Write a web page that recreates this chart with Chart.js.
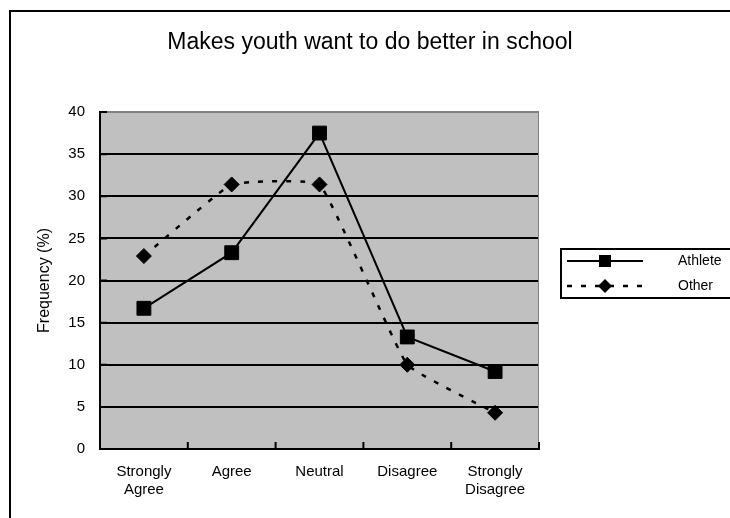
<!DOCTYPE html>
<html>
<head>
<meta charset="utf-8">
<script src="https://cdn.jsdelivr.net/npm/chart.js@4/dist/chart.umd.min.js"></script>
<style>
  html, body { margin: 0; padding: 0; background: #fff; }
  canvas { display: block; }
</style>
</head>
<body>
<canvas id="c" width="730" height="518"></canvas>
<script>
// Survey responses: share of each group giving each answer (%)
const chartTitle = 'Makes youth want to do better in school';
const categories = [['Strongly', 'Agree'], 'Agree', 'Neutral', 'Disagree', ['Strongly', 'Disagree']];
const athlete = [16.7, 23.3, 37.5, 13.3, 9.2];
const other = [22.9, 31.4, 31.4, 10.0, 4.3];
const seriesNames = ['Athlete', 'Other'];
const yMin = 0, yMax = 40, yStep = 5;
const yTitle = 'Frequency (%)';

const FONT = '"Liberation Sans", Arial, Helvetica, sans-serif';
const OTHER_DASH = [5, 9];

// Outer frame, title, grey plot background
const framePlugin = {
  id: 'frame',
  beforeDraw(chart) {
    const { ctx, chartArea: a, width, height } = chart;
    ctx.save();
    ctx.fillStyle = '#ffffff';
    ctx.fillRect(0, 0, width, height);
    ctx.fillStyle = '#c0c0c0';
    ctx.fillRect(a.left, a.top, a.right - a.left, a.bottom - a.top);
    ctx.strokeStyle = '#000';
    ctx.lineWidth = 2;
    ctx.beginPath();
    ctx.moveTo(10, height);
    ctx.lineTo(10, 11);
    ctx.lineTo(width, 11);
    ctx.stroke();
    ctx.fillStyle = '#000';
    ctx.font = '23px ' + FONT;
    ctx.textAlign = 'center';
    ctx.textBaseline = 'middle';
    ctx.fillText(chartTitle, 370, 43);
    ctx.restore();
  },
  beforeDatasetsDraw(chart) {
    const { ctx, chartArea: a, scales } = chart;
    const xs = scales.x, ys = scales.y;
    ctx.save();
    // grey right edge of the plot
    ctx.strokeStyle = '#808080';
    ctx.lineWidth = 1;
    ctx.beginPath();
    ctx.moveTo(a.right - 0.5, a.top);
    ctx.lineTo(a.right - 0.5, a.bottom);
    ctx.stroke();
    // short inward tick marks
    ctx.strokeStyle = '#000';
    ctx.lineWidth = 2;
    ctx.beginPath();
    for (let i = 0; i <= categories.length; i++) {
      const x = xs.getPixelForValue(i - 0.5);
      ctx.moveTo(x, a.bottom);
      ctx.lineTo(x, a.bottom - 7);
    }
    for (let v = yMin; v <= yMax; v += yStep) {
      const y = ys.getPixelForValue(v);
      ctx.moveTo(a.left, y);
      ctx.lineTo(a.left + 7, y);
    }
    ctx.stroke();
    ctx.restore();
  },
  afterDraw(chart) {
    const { ctx } = chart;
    ctx.save();
    // legend box
    ctx.strokeStyle = '#000';
    ctx.lineWidth = 2;
    ctx.strokeRect(561, 249, 175, 49);
    const rows = [
      { name: seriesNames[0], y: 261, dash: [], width: 2, marker: 'square' },
      { name: seriesNames[1], y: 286, dash: OTHER_DASH, width: 2.5, marker: 'diamond' }
    ];
    ctx.font = '14px ' + FONT;
    ctx.textBaseline = 'middle';
    ctx.textAlign = 'left';
    rows.forEach(r => {
      ctx.strokeStyle = '#000';
      ctx.lineWidth = r.width;
      ctx.setLineDash(r.dash);
      ctx.beginPath();
      ctx.moveTo(567, r.y);
      ctx.lineTo(643, r.y);
      ctx.stroke();
      ctx.setLineDash([]);
      ctx.fillStyle = '#000';
      ctx.beginPath();
      if (r.marker === 'square') {
        ctx.rect(605 - 6, r.y - 6, 12, 12);
      } else {
        ctx.moveTo(605, r.y - 7);
        ctx.lineTo(612, r.y);
        ctx.lineTo(605, r.y + 7);
        ctx.lineTo(598, r.y);
        ctx.closePath();
      }
      ctx.fill();
      ctx.fillText(r.name, 678, r.y);
    });
    ctx.restore();
  }
};

new Chart(document.getElementById('c'), {
  type: 'line',
  data: {
    labels: categories,
    datasets: [
      {
        label: seriesNames[0],
        data: athlete,
        borderColor: '#000',
        backgroundColor: '#000',
        borderWidth: 2,
        tension: 0,
        pointStyle: 'rect',
        pointRadius: 9.8,
        pointHoverRadius: 9.8,
        pointBorderWidth: 1,
        pointBackgroundColor: '#000',
        pointBorderColor: '#000',
        fill: false
      },
      {
        label: seriesNames[1],
        data: other,
        borderColor: '#000',
        backgroundColor: '#000',
        borderWidth: 2.5,
        borderDash: OTHER_DASH,
        tension: 0.1,
        pointStyle: 'rectRot',
        pointRadius: 7.5,
        pointHoverRadius: 7.5,
        pointBorderWidth: 1,
        pointBackgroundColor: '#000',
        pointBorderColor: '#000',
        fill: false
      }
    ]
  },
  options: {
    responsive: false,
    animation: false,
    events: [],
    layout: { padding: { left: 10, right: 191, top: 112, bottom: 0 } },
    plugins: {
      legend: { display: false },
      title: { display: false },
      tooltip: { enabled: false }
    },
    scales: {
      x: {
        offset: true,
        grid: { display: false, drawTicks: false },
        border: { display: true, color: '#000', width: 2 },
        ticks: {
          color: '#000',
          padding: 13,
          maxRotation: 0,
          autoSkip: false,
          font: { family: FONT, size: 15, lineHeight: 1.25 }
        },
        afterFit(scale) { scale.height = 69; }
      },
      y: {
        min: yMin,
        max: yMax,
        grid: {
          drawTicks: false,
          lineWidth: 2,
          color: (c) => (c.tick && c.tick.value === yMax ? '#808080' : '#000')
        },
        border: { display: true, color: '#000', width: 2 },
        ticks: {
          stepSize: yStep,
          color: '#000',
          padding: 15,
          font: { family: FONT, size: 15 }
        },
        title: {
          display: true,
          text: yTitle,
          color: '#000',
          padding: { top: 25, bottom: 0 },
          font: { family: FONT, size: 16 }
        },
        afterFit(scale) { scale.width = 90; }
      }
    }
  },
  plugins: [framePlugin]
});
</script>
</body>
</html>
